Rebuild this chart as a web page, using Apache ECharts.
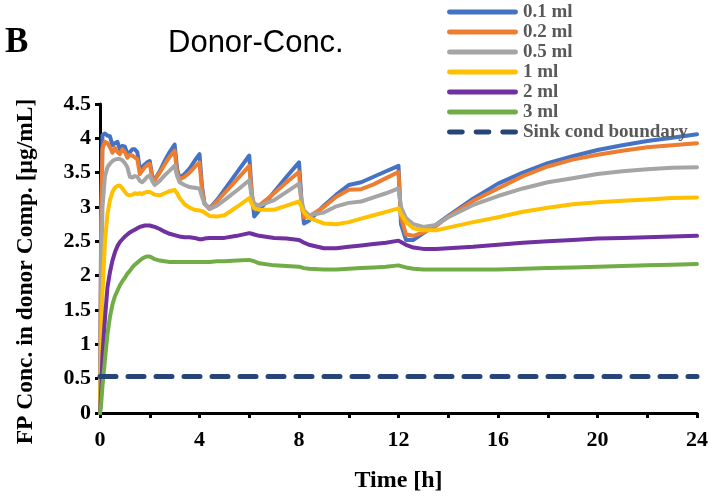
<!DOCTYPE html>
<html>
<head>
<meta charset="utf-8">
<script src="https://cdn.jsdelivr.net/npm/echarts@6/dist/echarts.min.js"></script>
<style>
html,body{margin:0;padding:0;background:#fff;}
#chart{width:714px;height:498px;}
</style>
</head>
<body>
<div id="chart"></div>
<script>
// Time points (h)
const timeH = [
  0, 0.05, 0.1, 0.2, 0.3, 0.4, 0.5, 0.6, 0.7, 0.8, 0.9, 1.0,
  1.1, 1.2, 1.3, 1.4, 1.5, 1.6, 1.7, 1.8, 1.9, 2.0,
  2.1, 2.2,
  2.4, 2.6, 2.8, 3.0,
  3.1, 3.2,
  3.4, 3.6, 3.8, 4.0,
  4.1, 4.2, 4.4, 4.7, 5.0, 5.5, 6.0,
  6.1, 6.2, 6.4, 7.0, 7.5, 8.0,
  8.1, 8.2, 8.4, 9.0, 9.5, 10, 10.5, 11, 11.5, 12.0,
  12.1, 12.3, 12.6, 13, 13.5, 14,
  15, 16, 17, 18, 19, 20, 21, 22, 23, 24
];
const seriesNames = ['0.1 ml', '0.2 ml', '0.5 ml', '1 ml', '2 ml', '3 ml', 'Sink cond boundary'];
const vol01 = [
  0, 3.0, 4.05, 4.07, 4.04, 4.03, 3.90, 3.93, 3.95, 3.84, 3.89, 3.88,
  3.77, 3.80, 3.84, 3.84, 3.80, 3.55, 3.58, 3.62, 3.65, 3.67,
  3.45, 3.40,
  3.52, 3.67, 3.80, 3.91,
  3.55, 3.42,
  3.48, 3.56, 3.67, 3.77,
  3.30, 3.05, 2.98, 3.10, 3.25, 3.50, 3.75,
  3.20, 2.86, 2.95, 3.22, 3.44, 3.65,
  3.10, 2.76, 2.80, 3.02, 3.18, 3.32, 3.36, 3.44, 3.52, 3.60,
  2.75, 2.52, 2.52, 2.62, 2.74, 2.87,
  3.12, 3.34, 3.50, 3.64, 3.74, 3.83, 3.90, 3.96, 4.01, 4.06
];
const vol02 = [
  0, 2.8, 3.85, 3.95, 3.93, 3.87, 3.79, 3.86, 3.80, 3.77, 3.84, 3.80,
  3.72, 3.76, 3.75, 3.72, 3.70, 3.48, 3.53, 3.58, 3.61, 3.63,
  3.42, 3.39,
  3.50, 3.62, 3.73, 3.82,
  3.50, 3.40,
  3.44, 3.50, 3.58, 3.65,
  3.25, 3.05, 2.98, 3.08, 3.20, 3.40, 3.60,
  3.20, 3.00, 3.02, 3.20, 3.36, 3.51,
  3.05, 2.85, 2.86, 3.00, 3.15, 3.25, 3.26, 3.33, 3.42, 3.51,
  2.85, 2.60, 2.58, 2.63, 2.72, 2.86,
  3.09, 3.27, 3.45, 3.59, 3.69, 3.76, 3.82, 3.87, 3.90, 3.93
];
const vol05 = [
  0, 2.0, 3.0, 3.45, 3.58, 3.63, 3.67, 3.69, 3.70, 3.70, 3.68, 3.64,
  3.58, 3.44, 3.43, 3.45, 3.44, 3.38, 3.36, 3.40, 3.44, 3.46,
  3.38, 3.32,
  3.38, 3.46, 3.53, 3.60,
  3.45, 3.36,
  3.32, 3.29, 3.28, 3.27,
  3.15, 3.05, 2.97, 3.02, 3.10, 3.24, 3.39,
  3.15, 3.05, 3.02, 3.10, 3.22, 3.34,
  3.10, 2.95, 2.88, 2.92, 3.01, 3.06, 3.08, 3.14, 3.20, 3.27,
  3.00, 2.84, 2.75, 2.71, 2.74, 2.85,
  3.03, 3.16, 3.27, 3.36, 3.42, 3.48, 3.52, 3.55, 3.57, 3.58
];
const vol1 = [
  0, 1.0, 1.75, 2.5, 2.9, 3.1, 3.22, 3.28, 3.31, 3.31, 3.27, 3.22,
  3.18, 3.17, 3.18, 3.20, 3.19, 3.20, 3.19, 3.21, 3.22, 3.22,
  3.20, 3.18,
  3.17, 3.20, 3.23, 3.25,
  3.20, 3.13,
  3.04, 2.99, 2.96, 2.95,
  2.94, 2.92, 2.87, 2.86, 2.88, 3.00, 3.13,
  3.05, 2.98, 2.96, 2.96, 3.02, 3.08,
  3.00, 2.92, 2.84, 2.76, 2.75, 2.78, 2.83, 2.88, 2.93, 2.98,
  2.90, 2.78, 2.69, 2.66, 2.66, 2.70,
  2.78, 2.85, 2.93, 2.99, 3.04, 3.07, 3.09, 3.11, 3.13, 3.14
];
const vol2 = [
  0, 0.35, 0.85, 1.38, 1.83, 2.05, 2.22, 2.34, 2.43, 2.49, 2.53, 2.57,
  2.60, 2.63, 2.65, 2.67, 2.69, 2.71, 2.72, 2.73, 2.73, 2.73,
  2.72, 2.71,
  2.68, 2.64, 2.61, 2.59,
  2.58, 2.57,
  2.56, 2.56, 2.55, 2.53,
  2.53, 2.54, 2.55, 2.55, 2.55, 2.58, 2.62,
  2.61, 2.60, 2.58, 2.55, 2.54, 2.52,
  2.50, 2.48, 2.45, 2.40, 2.40, 2.42, 2.44, 2.46, 2.48, 2.51,
  2.49, 2.45, 2.41, 2.39, 2.39, 2.40,
  2.42, 2.45, 2.48, 2.50, 2.52, 2.54, 2.55, 2.56, 2.57, 2.58
];
const vol3 = [
  0, 0.15, 0.40, 0.78, 1.15, 1.40, 1.58, 1.70, 1.78, 1.86, 1.92, 1.97,
  2.03, 2.07, 2.12, 2.16, 2.19, 2.22, 2.25, 2.27, 2.28, 2.28,
  2.26, 2.24,
  2.22, 2.21, 2.20, 2.20,
  2.20, 2.20,
  2.20, 2.20, 2.20, 2.20,
  2.20, 2.20, 2.20, 2.21, 2.21, 2.22, 2.23,
  2.22, 2.21, 2.18, 2.15, 2.14, 2.13,
  2.12, 2.11, 2.10, 2.09, 2.09, 2.10, 2.11, 2.12, 2.13, 2.15,
  2.14, 2.12, 2.10, 2.09, 2.09, 2.09,
  2.09, 2.09, 2.10, 2.11, 2.12, 2.13, 2.14, 2.15, 2.16, 2.17
];
const sinkBoundary = 0.53;
const xTicks = [0, 4, 8, 12, 16, 20, 24];
const yTicks = [0, 0.5, 1, 1.5, 2, 2.5, 3, 3.5, 4, 4.5];

const colors = ['#4472C4', '#ED7D31', '#A5A5A5', '#FFC000', '#7030A0', '#70AD47', '#264478'];
const valueSets = [vol01, vol02, vol05, vol1, vol2, vol3];
const zip = vals => timeH.map((t, i) => [t, vals[i]]);

const series = valueSets.map((vals, k) => ({
  name: seriesNames[k],
  type: 'line',
  data: zip(vals),
  symbol: 'none',
  smooth: false,
  lineStyle: { color: colors[k], width: 4, cap: 'round', join: 'round' },
  itemStyle: { color: colors[k] },
  z: 2 + k
}));
series.push({
  name: seriesNames[6],
  type: 'line',
  data: [[timeH[0], sinkBoundary], [timeH[timeH.length - 1], sinkBoundary]],
  symbol: 'none',
  lineStyle: { color: colors[6], width: 5, type: [16, 12], cap: 'round' },
  itemStyle: { color: colors[6] },
  z: 10
});

const dashIcon = 'path://M2.5,0h13a2.5,2.5 0 0 1 0,5h-13a2.5,2.5 0 0 1 0,-5z' +
  'M29.5,0h13a2.5,2.5 0 0 1 0,5h-13a2.5,2.5 0 0 1 0,-5z' +
  'M56.5,0h13a2.5,2.5 0 0 1 0,5h-13a2.5,2.5 0 0 1 0,-5z';
const legendData = seriesNames.map((n, k) => ({
  name: n,
  icon: k === 6 ? dashIcon : 'path://M2.5,0h67a2.5,2.5 0 0 1 0,5h-67a2.5,2.5 0 0 1 0,-5z',
  itemStyle: { color: colors[k], borderWidth: 0 }
}));

const serif = '"Liberation Serif", "DejaVu Serif", serif';
const chart = echarts.init(document.getElementById('chart'), null, { renderer: 'canvas' });
chart.setOption({
  animation: false,
  backgroundColor: '#fff',
  title: [
    { text: 'B', left: 0, top: 20, textStyle: { fontFamily: serif, fontWeight: 'bold', fontSize: 35, color: '#000' } },
    { text: 'Donor-Conc.', left: 163, top: 23, textStyle: { fontFamily: '"Liberation Sans", Arial, sans-serif', fontWeight: 'normal', fontSize: 31, color: '#000' } }
  ],
  legend: {
    orient: 'vertical',
    left: 447,
    top: 2,
    padding: 0,
    itemWidth: 71,
    itemHeight: 5,
    itemGap: 0,
    data: legendData,
    textStyle: { fontFamily: serif, fontWeight: 'bold', fontSize: 19, color: '#595959', lineHeight: 20 },
    z: 20
  },
  grid: { left: 100, right: 17, top: 104, bottom: 80, containLabel: false },
  xAxis: {
    type: 'value',
    min: 0, max: 24, interval: 2,
    name: 'Time [h]',
    nameLocation: 'middle',
    nameGap: 56,
    nameTextStyle: { fontFamily: serif, fontWeight: 'bold', fontSize: 24, color: '#000' },
    axisLine: { show: true, onZero: false, lineStyle: { color: '#000', width: 3 } },
    axisTick: { show: true, length: 5, lineStyle: { color: '#000', width: 3 } },
    axisLabel: {
      fontFamily: serif, fontWeight: 'bold', fontSize: 22, color: '#000', margin: 16,
      formatter: v => (xTicks.indexOf(v) >= 0 ? String(v) : '')
    },
    splitLine: { show: false }
  },
  yAxis: {
    type: 'value',
    min: 0, max: 4.5, interval: 0.5,
    name: 'FP Conc. in donor Comp. [μg/mL]',
    nameLocation: 'middle',
    nameGap: 62,
    nameTextStyle: { fontFamily: serif, fontWeight: 'bold', fontSize: 23.5, color: '#000', padding: [0, 26, 0, 0] },
    axisLine: { show: true, lineStyle: { color: '#000', width: 3 } },
    axisTick: { show: true, length: 5, lineStyle: { color: '#000', width: 3 } },
    axisLabel: {
      fontFamily: serif, fontWeight: 'bold', fontSize: 22, color: '#000', margin: 9,
      formatter: v => (yTicks.indexOf(v) >= 0 ? String(v) : '')
    },
    splitLine: { show: false }
  },
  series: series
});
</script>
</body>
</html>
